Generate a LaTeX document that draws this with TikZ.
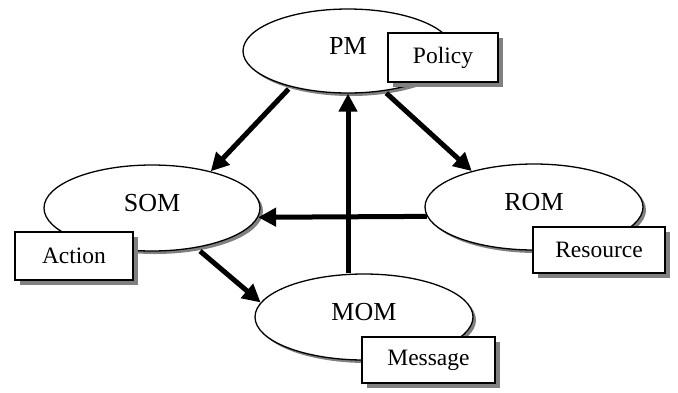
\documentclass[tikz,border=0pt]{standalone}
\usepackage{fontspec}
\setmainfont{Liberation Serif}
\usetikzlibrary{shapes.geometric,shadows,arrows.meta}
\tikzset{
  ell/.style={ellipse, draw, line width=1.3pt, fill=white, inner sep=0pt,
    font=\fontsize{26}{29}\selectfont, text height=17pt, text depth=10pt,
    drop shadow={shadow xshift=3pt, shadow yshift=-3pt, fill=gray, opacity=1}},
  tag/.style={rectangle, draw, line width=1.4pt, fill=white, inner sep=0pt,
    font=\fontsize{23.5}{26}\selectfont,
    drop shadow={shadow xshift=5pt, shadow yshift=-5pt, fill=gray, opacity=1}},
  arr/.style={line width=5pt, -{Triangle[length=18pt,width=18pt]}}
}
\begin{document}
\begin{tikzpicture}[x=1pt,y=-1pt]
\useasboundingbox (0,0) rectangle (678,392);
\node[ell, minimum width=210pt, minimum height=84pt] (pm) at (348,51) {PM};
\node[ell, minimum width=216pt, minimum height=86pt] (som) at (152,208) {SOM};
\node[ell, minimum width=218pt, minimum height=86pt] (rom) at (534,207) {ROM};
\node[ell, minimum width=218pt, minimum height=86pt] (mom) at (364,317) {MOM};
\node[tag, minimum width=110pt, minimum height=49pt] (policy) at (443,57.5) {Policy};
\node[tag, minimum width=118pt, minimum height=48pt] (action) at (74,256) {Action};
\node[tag, minimum width=132pt, minimum height=46pt] (resource) at (599,250) {Resource};
\node[tag, minimum width=133pt, minimum height=46pt] (message) at (428.5,360) {Message};
\draw[arr, shorten <=3pt] (pm.212) -- (som.32);
\draw[arr, shorten <=3pt] (pm.312) -- (rom.150);
\draw[arr] (pm.south |- mom.north) -- (pm.south);
\draw[arr] (rom.185) -- (som.355);
\draw[arr, shorten <=5pt] (som.318) -- (mom.172);
\end{tikzpicture}
\end{document}
